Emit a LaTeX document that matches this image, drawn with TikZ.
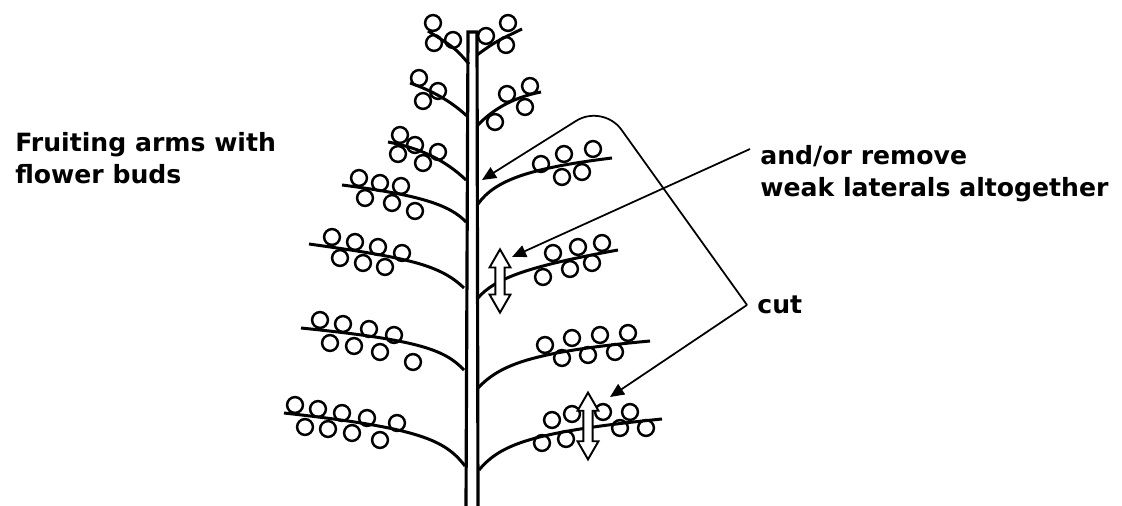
\documentclass[tikz,border=0pt]{standalone}
\usepackage{fontspec}
\setmainfont{DejaVu Sans}
\usetikzlibrary{arrows.meta, shapes.arrows}

\begin{document}
\begin{tikzpicture}[
      x=0.02cm, y=-0.02cm,
      stalk/.style={line width=1.8pt},
      arm/.style={line width=1.7pt},
      bud/.style={line width=1.4pt},
      lbl/.style={font=\bfseries\fontsize{14.3}{18}\selectfont, align=left, inner sep=0pt},
      arr/.style={line width=1pt, -{Triangle[length=8pt, width=7pt]}},
      gap/.style={double arrow, draw, line width=1.1pt, rotate=90, inner xsep=0pt, inner ysep=2.1pt,
        fill=white, double arrow head extend=3.3pt, double arrow tip angle=60}
  ]
  \useasboundingbox (0,0) rectangle (1122,506);

  % main stem
  \draw[stalk] (466,506) -- (468,32) -- (477,32) -- (478,506);

  % fruiting arms, left side
  \draw[arm] (469,64) .. controls (455,48) .. (428,31);
  \foreach \p in {(433,23),(453,40),(434,43)} \draw[bud] \p circle[radius=4.5pt];
  \draw[arm] (468,117) .. controls (450,100) and (430,90) .. (410,83);
  \foreach \p in {(419,78),(438,91),(423,101)} \draw[bud] \p circle[radius=4.5pt];
  \draw[arm] (466,180) .. controls (445,160) and (420,148) .. (388,142);
  \foreach \p in {(400,135),(415,145),(398,154),(423,163),(438,152)} \draw[bud] \p circle[radius=4.5pt];
  \draw[arm] (466,222) .. controls (450,205) and (420,195) .. (342,185);
  \foreach \p in {(359,178),(380,183),(401,186),(365,198),(392,203),(415,211)} \draw[bud] \p circle[radius=4.5pt];
  \draw[arm] (464,288) .. controls (440,265) and (410,258) .. (309,244);
  \foreach \p in {(332,237),(355,242),(378,247),(402,253),(340,258),(363,263),(385,267)} \draw[bud] \p circle[radius=4.5pt];
  \draw[arm] (464,370) .. controls (445,350) and (420,340) .. (301,328);
  \foreach \p in {(320,320),(343,324),(369,329),(394,335),(330,343),(354,346),(380,352),(413,362)} \draw[bud] \p circle[radius=4.5pt];
  \draw[arm] (465,466) .. controls (445,440) and (420,428) .. (284,413);
  \foreach \p in {(295,405),(318,409),(342,413),(367,418),(397,423),(305,427),(328,429),(352,433),(380,440)} \draw[bud] \p circle[radius=4.5pt];

  % fruiting arms, right side
  \draw[arm] (477,55) .. controls (495,42) .. (522,29);
  \foreach \p in {(486,36),(508,23),(506,45)} \draw[bud] \p circle[radius=4.5pt];
  \draw[arm] (477,126) .. controls (490,112) and (510,98) .. (541,92);
  \foreach \p in {(507,94),(530,86),(525,107),(495,122)} \draw[bud] \p circle[radius=4.5pt];
  \draw[arm] (478,204) .. controls (495,180) and (530,168) .. (612,158);
  \foreach \p in {(541,164),(564,154),(593,149),(562,177),(582,172)} \draw[bud] \p circle[radius=4.5pt];
  \draw[arm] (478,298) .. controls (495,278) and (530,266) .. (618,250);
  \foreach \p in {(553,253),(578,247),(602,243),(543,277),(570,269),(592,263)} \draw[bud] \p circle[radius=4.5pt];
  \draw[arm] (478,388) .. controls (500,365) and (530,352) .. (650,341);
  \foreach \p in {(545,345),(572,338),(600,335),(628,333),(562,358),(588,355),(615,352)} \draw[bud] \p circle[radius=4.5pt];
  \draw[arm] (479,470) .. controls (500,445) and (530,432) .. (662,419);
  \foreach \p in {(552,420),(572,414),(603,412),(630,412),(542,443),(566,439),(620,428),(646,428)} \draw[bud] \p circle[radius=4.5pt];

  % cut marks
  \node[gap, minimum height=36pt] (cutarm) at (500,281) {};
  \node[gap, minimum height=38pt] (cutbud) at (588,426) {};

  % labels
  \node[lbl, anchor=north west] (fruit) at (15,132) {Fruiting arms with\\flower buds};
  \node[lbl, anchor=north west] (remove) at (760,145) {and/or remove\\weak laterals altogether};
  \node[lbl, anchor=base west] (cut) at (757,314) {cut};

  % pointers
  \coordinate (bend) at (747,305);
  \coordinate (remtail) at (750,149);
  \coordinate (stemhit) at (482,180);
  \coordinate (armhit) at (512,257);
  \coordinate (budhit) at (610,397);
  \draw[arr, rounded corners=18pt] (bend) -- (603,104) -- (stemhit);
  \draw[arr] (bend) -- (budhit);
  \draw[arr] (remtail) -- (armhit);
\end{tikzpicture}
\end{document}
